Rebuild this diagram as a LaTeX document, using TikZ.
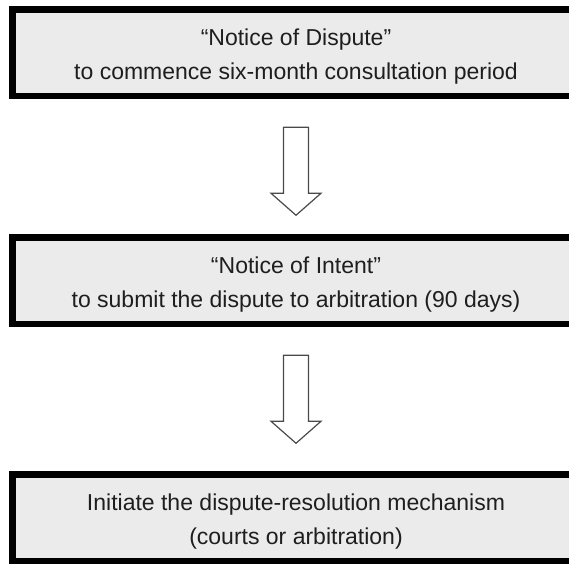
\documentclass[tikz,border=0pt]{standalone}
\usepackage{fontspec}
\setmainfont{Liberation Sans}
\usetikzlibrary{calc}
\definecolor{boxfill}{HTML}{EBEBEB}
\definecolor{txt}{HTML}{1E1E1E}
\definecolor{arrline}{HTML}{4A4A4A}
\tikzset{
  stepbox/.style={draw=black, line width=6.5pt, fill=boxfill, rectangle,
    minimum width=567.5pt, minimum height=86.5pt, inner sep=0pt},
  label/.style={anchor=base, inner sep=0pt, text=txt, font=\fontsize{23pt}{27pt}\selectfont},
  blockarrow/.style={draw=arrline, line width=1.2pt, fill=white, line join=miter}
}
\begin{document}
\begin{tikzpicture}[x=1pt,y=1pt]
\useasboundingbox (0,0) rectangle (569,-563);
\clip (0,0) rectangle (569,-563);
\fill[white] (0,0) rectangle (569,-563);
% boxes
\node[stepbox] (b1) at (296,-52.5) {};
\node[stepbox] (b2) at (296,-280.5) {};
\node[stepbox] (b3) at (296,-517.5) {};
% texts
\node[label] (t1a) at ($(b1.north)+(0,-39.75)$) {“Notice of Dispute”};
\node[label] (t1b) at ($(b1.north)+(0,-73.75)$) {to commence six-month consultation period};
\node[label] (t2a) at ($(b2.north)+(0,-39.75)$) {“Notice of Intent”};
\node[label] (t2b) at ($(b2.north)+(0,-73.75)$) {to submit the dispute to arbitration (90 days)};
\node[label] (t3a) at ($(b3.north)+(0,-39.75)$) {Initiate the dispute-resolution mechanism};
\node[label] (t3b) at ($(b3.north)+(0,-73.75)$) {(courts or arbitration)};
% block arrows between boxes
\coordinate (a1) at ($(b1.south)+(0,-28.25)$);
\coordinate (a2) at ($(b2.south)+(0,-28.25)$);
\foreach \a in {a1,a2}{
  \draw[blockarrow] ($(\a)+(-12.5,0)$) -- ($(\a)+(12.5,0)$) -- ($(\a)+(12.5,-66)$)
    -- ($(\a)+(25,-66)$) -- ($(\a)+(0,-88)$) -- ($(\a)+(-25,-66)$)
    -- ($(\a)+(-12.5,-66)$) -- cycle;
}
\end{tikzpicture}
\end{document}
